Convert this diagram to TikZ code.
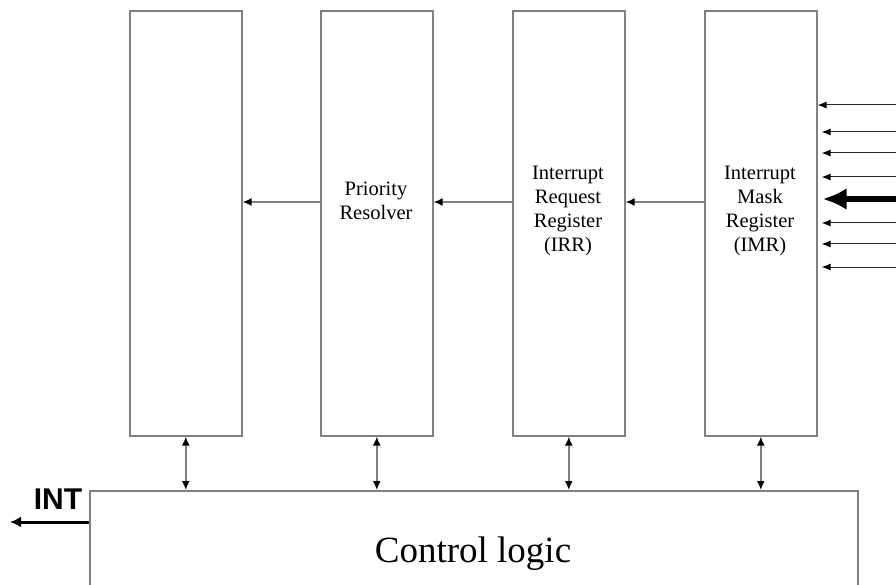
\documentclass[tikz,border=0pt]{standalone}
\usepackage{fontspec}
\setmainfont{Liberation Serif}
\newfontfamily\labelsans{Liberation Sans}
\usetikzlibrary{arrows.meta}
\definecolor{edge}{HTML}{808080}
\tikzset{
  regbox/.style={draw=edge, line width=1.6pt, minimum width=112pt, minimum height=425pt, inner sep=0pt, anchor=north west},
  regtext/.style={align=center, font=\fontsize{20.5pt}{24pt}\selectfont, inner sep=0pt},
  flow/.style={draw=edge, line width=1.6pt, -{Latex[black,length=9pt,width=8pt]}},
  bus/.style={draw=edge, line width=1.6pt, {Latex[black,length=9pt,width=8pt]}-{Latex[black,length=9pt,width=8pt]}},
  inline/.style={draw=black!85, line width=1pt, -{Latex[black,length=9pt,width=7pt]}},
  inthick/.style={draw=black, line width=6.5pt, -{Latex[black,length=24pt,width=22pt]}},
  outint/.style={draw=black, line width=3pt, -{Latex[black,length=11pt,width=11pt]}},
}
\begin{document}
\begin{tikzpicture}[x=1pt, y=-1pt]
  \clip (0,0) rectangle (896,585);

  % register blocks
  \node[regbox] (b1) at (129,10) {};
  \node[regbox] (b2) at (320,10) {};
  \node[regbox] (b3) at (512,10) {};
  \node[regbox] (b4) at (704,10) {};

  \node[regtext] (t2) at (376,201) {Priority\\Resolver};
  \node[regtext] (t3) at (568,211) {Interrupt\\Request\\Register\\(IRR)};
  \node[regtext] (t4) at (760,211) {Interrupt\\Mask\\Register\\(IMR)};

  % control logic block, open at the bottom
  \node[draw=edge, line width=1.6pt, minimum width=768pt, minimum height=140pt, inner sep=0pt, anchor=north west] (ctrl) at (89,490) {};
  \node[font=\fontsize{37pt}{40pt}\selectfont, inner sep=0pt] (ctext) at (473,554) {Control logic};

  % data flow between the registers
  \coordinate (m) at (0,202);
  \draw[flow] (b4.west |- m) -- (b3.east |- m);
  \draw[flow] (b3.west |- m) -- (b2.east |- m);
  \draw[flow] (b2.west |- m) -- (b1.east |- m);

  % bidirectional links to the control logic
  \foreach \b in {b1,b2,b3,b4}
    \draw[bus] (\b.south) -- (\b.south |- ctrl.north);

  % interrupt request inputs
  \foreach \n/\y in {1/105,2/132,3/153,4/177,6/223,7/244,8/267}
    \coordinate (in\n) at (896,\y);
  \coordinate (in5) at (896,199);
  \draw[inline] (in1) -- (in1 -| b4.east);
  \foreach \n in {2,3,4,6,7,8}
    \draw[inline, shorten >=4pt] (in\n) -- (in\n -| b4.east);
  \draw[inthick, shorten >=5pt] (in5) -- (in5 -| b4.east);

  % INT output
  \coordinate (intend) at (10,522);
  \draw[outint] (ctrl.west |- intend) -- (intend);
  \node[font=\labelsans\bfseries\fontsize{30pt}{32pt}\selectfont, inner sep=0pt] (intlbl) at (58,499) {INT};
\end{tikzpicture}
\end{document}
